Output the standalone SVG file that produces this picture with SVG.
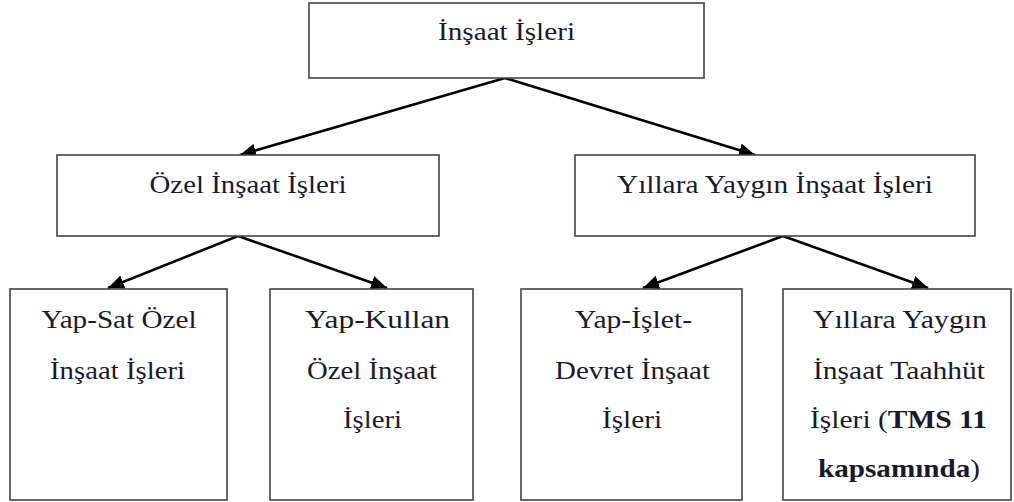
<svg xmlns="http://www.w3.org/2000/svg" width="1014" height="502" viewBox="0 0 1014 502">
<style>
.box{fill:#fff;stroke:#444;stroke-width:1.6}
text{font-family:"Liberation Serif",Tinos,"Noto Serif","DejaVu Serif",Times,serif;font-size:25px;fill:#1a1a2a;text-anchor:middle}
.b{font-weight:bold}
.c{stroke:#000;stroke-width:2.6;fill:none;marker-end:url(#ah)}
</style>
<defs>
<marker id="ah" markerUnits="userSpaceOnUse" markerWidth="18" markerHeight="14" refX="16" refY="7" orient="auto">
<path d="M0,0 L16,7 L0,14 Z" fill="#000"/>
</marker>
</defs>
<rect width="1014" height="502" fill="#fff"/>
<g id="connectors">
<line class="c" x1="505" y1="78" x2="240" y2="155"/>
<line class="c" x1="505" y1="78" x2="755" y2="155"/>
<line class="c" x1="238" y1="236" x2="108" y2="288"/>
<line class="c" x1="238" y1="236" x2="387" y2="288"/>
<line class="c" x1="783" y1="236" x2="643" y2="288"/>
<line class="c" x1="783" y1="236" x2="928" y2="288"/>
</g>
<g id="n0">
<rect class="box" x="309" y="3" width="395" height="75"/>
<text x="506.5" y="40" textLength="137" lengthAdjust="spacingAndGlyphs" style="font-family:'Liberation Serif',serif">İnşaat İşleri</text>
</g>
<g id="n1">
<rect class="box" x="57" y="155" width="382" height="81"/>
<text x="248" y="193" textLength="197" lengthAdjust="spacingAndGlyphs">Özel İnşaat İşleri</text>
</g>
<g id="n2">
<rect class="box" x="575" y="155" width="400" height="81"/>
<text x="775" y="193" textLength="316" lengthAdjust="spacingAndGlyphs">Yıllara Yaygın İnşaat İşleri</text>
</g>
<g id="n3">
<rect class="box" x="10" y="289" width="217" height="211"/>
<text x="119" y="328" textLength="155" lengthAdjust="spacingAndGlyphs">Yap-Sat Özel</text>
<text x="117.5" y="379" textLength="135" lengthAdjust="spacingAndGlyphs">İnşaat İşleri</text>
</g>
<g id="n4">
<rect class="box" x="270" y="289" width="203" height="211"/>
<text x="377.5" y="328" textLength="145" lengthAdjust="spacingAndGlyphs">Yap-Kullan</text>
<text x="372" y="379" textLength="130" lengthAdjust="spacingAndGlyphs">Özel İnşaat</text>
<text x="372.5" y="428" textLength="59" lengthAdjust="spacingAndGlyphs">İşleri</text>
</g>
<g id="n5">
<rect class="box" x="521" y="289" width="221" height="211"/>
<text x="633.5" y="328" textLength="117" lengthAdjust="spacingAndGlyphs">Yap-İşlet-</text>
<text x="632.5" y="379" textLength="155" lengthAdjust="spacingAndGlyphs">Devret İnşaat</text>
<text x="632" y="428" textLength="60" lengthAdjust="spacingAndGlyphs">İşleri</text>
</g>
<g id="n6">
<rect class="box" x="783" y="289" width="228" height="211"/>
<text x="900" y="328" textLength="174" lengthAdjust="spacingAndGlyphs">Yıllara Yaygın</text>
<text x="899" y="379" textLength="172" lengthAdjust="spacingAndGlyphs">İnşaat Taahhüt</text>
<text x="898.5" y="428" textLength="177" lengthAdjust="spacingAndGlyphs">İşleri (<tspan class="b">TMS 11</tspan></text>
<text x="899" y="477" textLength="162" lengthAdjust="spacingAndGlyphs"><tspan class="b">kapsamında</tspan>)</text>
</g>
</svg>
